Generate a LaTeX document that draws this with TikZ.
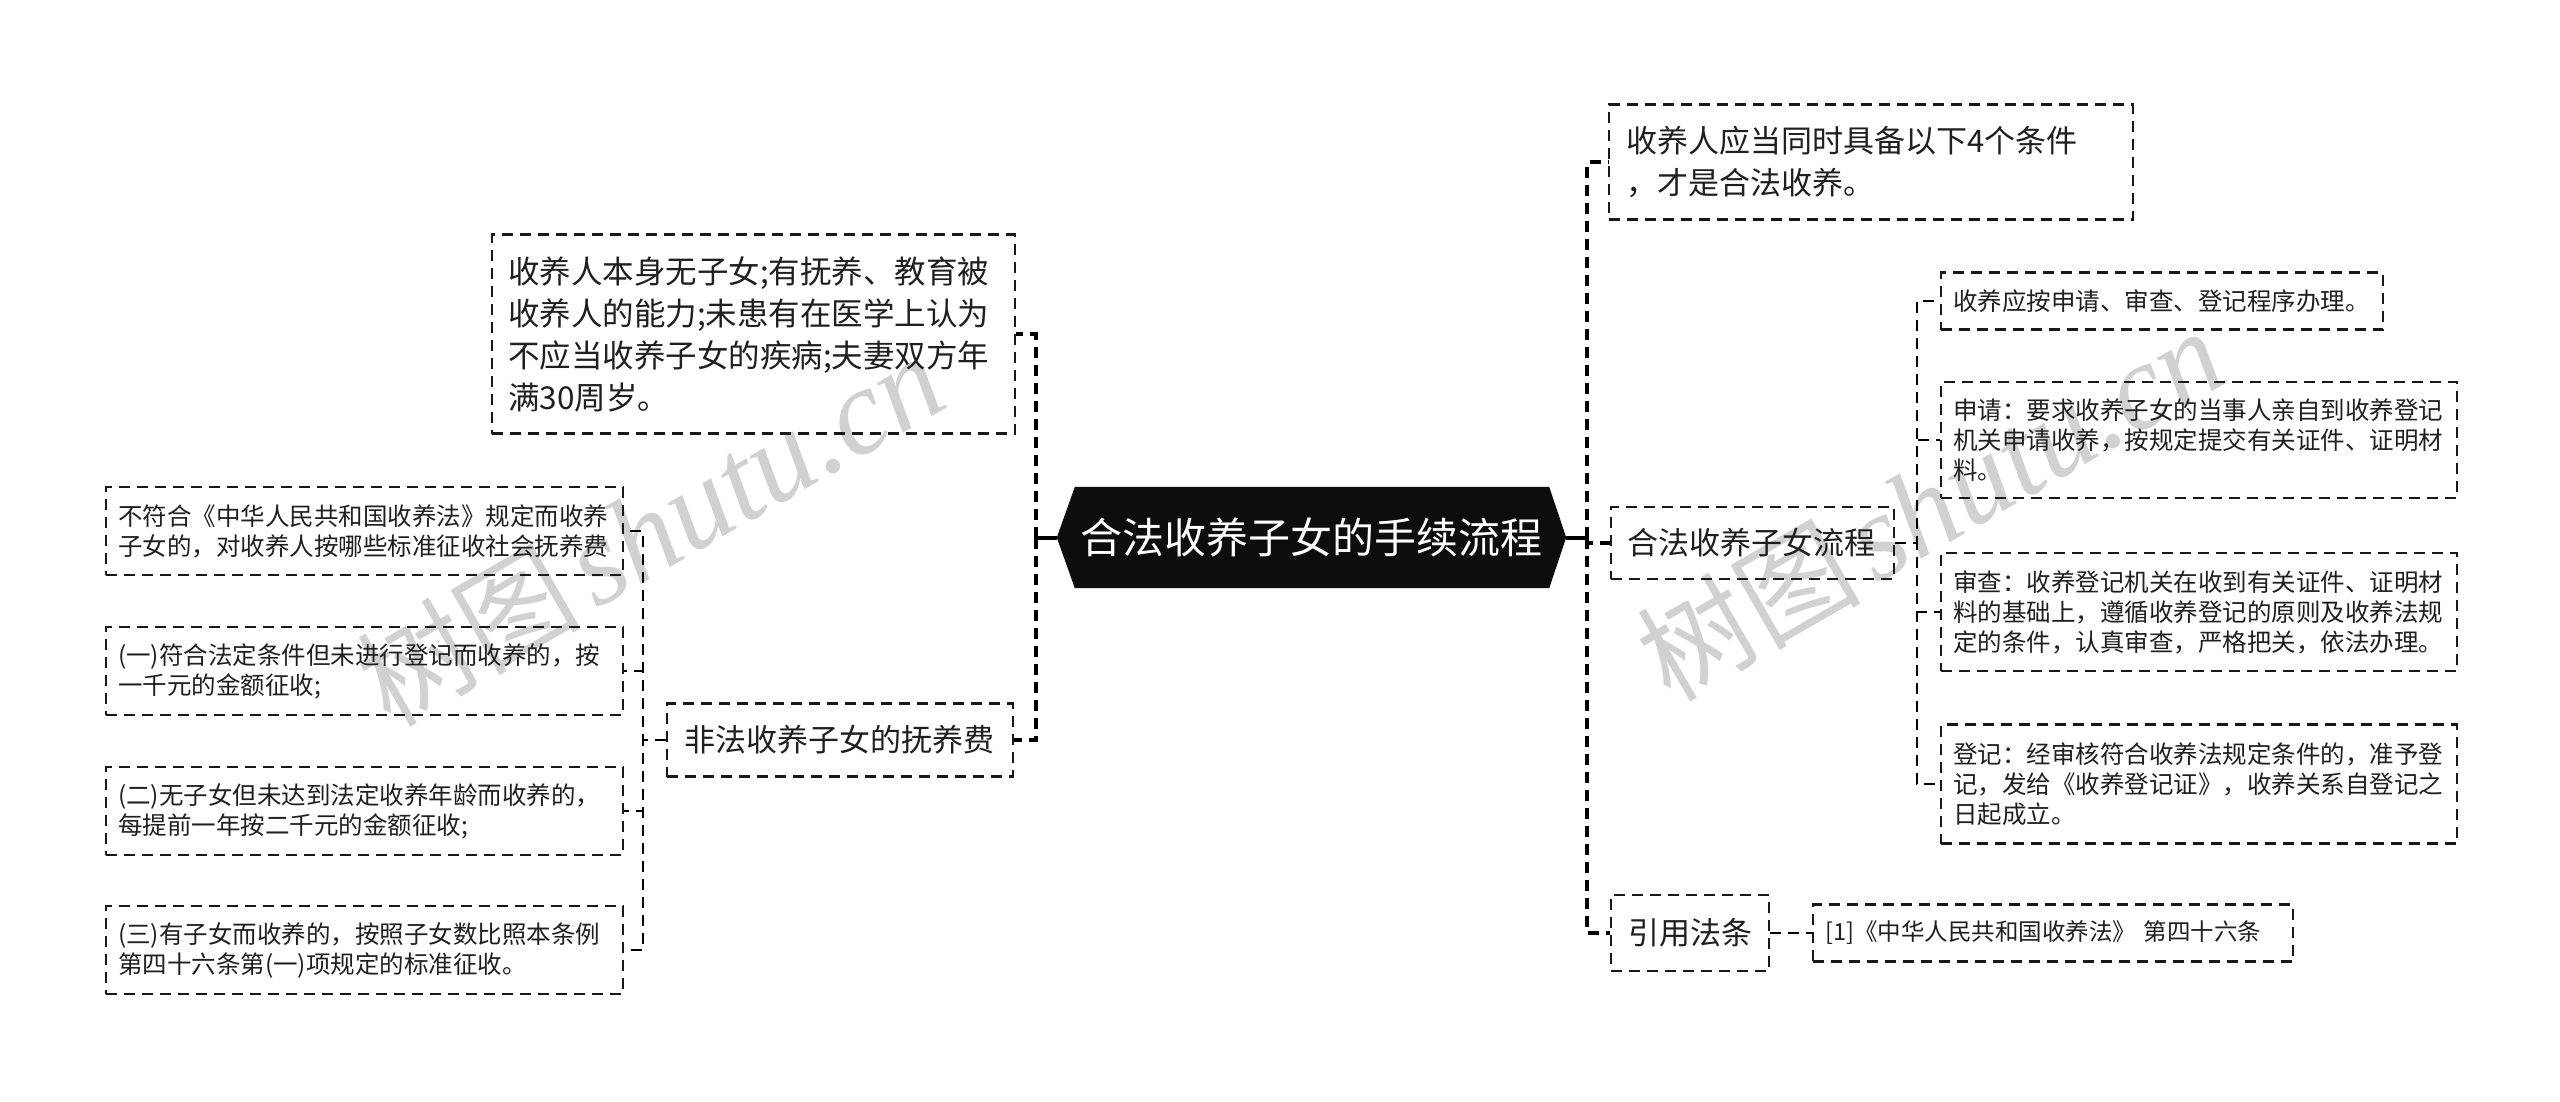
\documentclass[tikz,border=0pt]{standalone}
\usepackage{fontspec}
\setmainfont{Noto Sans CJK SC}
\newfontfamily\wmlatin{Liberation Serif}
\usetikzlibrary{backgrounds}
\begin{document}
\begin{tikzpicture}[x=1pt,y=-1pt]
\tikzset{
 bx/.style={draw=black!90, line width=2.2pt, dash pattern=on 11pt off 7pt, align=left, inner ysep=0pt, anchor=west, text=black!88},
 leaf/.style={bx, inner xsep=12pt, font=\fontsize{24.5}{30}\selectfont},
 lvl/.style={bx, inner xsep=17pt, font=\fontsize{31}{42}\selectfont},
 trunk/.style={draw=black, line width=3.6pt, dash pattern=on 11pt off 7pt},
 twig/.style={draw=black, line width=2.2pt, dash pattern=on 11pt off 7pt},
 stem/.style={draw=black, line width=4pt},
 wm/.style={text=black!18, rotate=30, inner sep=0pt},
}
\useasboundingbox (0,0) rectangle (2560,1101);

% central topic
\node[text=white, font=\fontsize{42}{50}\selectfont, minimum width=509pt, minimum height=101pt, inner sep=0pt] (root) at (1311.5,537.5) {合法收养子女的手续流程};

\begin{scope}[on background layer]
\fill[white] (0,0) rectangle (2560,1101);
\node[wm] (wm1) at (650,530) {\fontsize{112}{112}\selectfont 树图\hspace{14pt}{\wmlatin\itshape\fontsize{122}{122}\selectfont shutu.cn}};
\node[wm] (wm2) at (1930,505) {\fontsize{112}{112}\selectfont 树图\hspace{14pt}{\wmlatin\itshape\fontsize{122}{122}\selectfont shutu.cn}};
\fill[black!95] (root.west) -- ([xshift=18pt]root.north west) -- ([xshift=-17pt]root.north east) -- (root.east) -- ([xshift=-17pt]root.south east) -- ([xshift=18pt]root.south west) -- cycle;
\end{scope}

% left branch
\node[lvl, inner xsep=16pt, text width=491pt, minimum height=199pt, font=\fontsize{31.5}{42}\selectfont] (cond) at (491,334) {收养人本身无子女;有抚养、教育被\\收养人的能力;未患有在医学上认为\\不应当收养子女的疾病;夫妻双方年\\满30周岁。};
\node[lvl, text width=312pt, minimum height=73pt] (fee) at (666,740) {非法收养子女的抚养费};

\node[leaf, text width=493pt, minimum height=88pt] (f0) at (105,531) {不符合《中华人民共和国收养法》规定而收养\\子女的，对收养人按哪些标准征收社会抚养费};
\node[leaf, text width=493pt, minimum height=88pt] (f1) at (105,671) {(一)符合法定条件但未进行登记而收养的，按\\一千元的金额征收;};
\node[leaf, text width=493pt, minimum height=88pt] (f2) at (105,811) {(二)无子女但未达到法定收养年龄而收养的，\\每提前一年按二千元的金额征收;};
\node[leaf, text width=493pt, minimum height=88pt] (f3) at (105,950) {(三)有子女而收养的，按照子女数比照本条例\\第四十六条第(一)项规定的标准征收。};

% right branch
\node[lvl, text width=490pt, minimum height=115pt] (req) at (1608,162) {收养人应当同时具备以下4个条件\\，才是合法收养。};
\node[lvl, inner xsep=16.5pt, text width=250pt, minimum height=72pt] (proc) at (1610,543) {合法收养子女流程};
\node[lvl, text width=124pt, minimum height=76pt] (law) at (1610,933) {引用法条};
\node[leaf, font=\fontsize{23.5}{30}\selectfont, text width=456pt, minimum height=57pt] (ref) at (1812,933) {[1]《中华人民共和国收养法》 第四十六条};

\node[leaf, text width=418pt, minimum height=57pt] (s0) at (1940,301) {收养应按申请、审查、登记程序办理。};
\node[leaf, text width=492pt, minimum height=116pt] (s1) at (1940,440) {申请：要求收养子女的当事人亲自到收养登记\\机关申请收养，按规定提交有关证件、证明材\\料。};
\node[leaf, text width=492pt, minimum height=118pt] (s2) at (1940,612) {审查：收养登记机关在收到有关证件、证明材\\料的基础上，遵循收养登记的原则及收养法规\\定的条件，认真审查，严格把关，依法办理。};
\node[leaf, text width=492pt, minimum height=119pt] (s3) at (1940,784) {登记：经审核符合收养法规定条件的，准予登\\记，发给《收养登记证》，收养关系自登记之\\日起成立。};

% connectors
\coordinate (lj) at ([xshift=-21pt]root.west);
\coordinate (rj) at ([xshift=21pt]root.east);
\draw[stem] (root.west) -- (lj);
\draw[stem] (root.east) -- (rj);
\draw[trunk] (lj) |- (cond.east);
\draw[trunk] (lj) |- (fee.east);
\draw[trunk] (rj) |- (req.west);
\draw[trunk] (rj) |- (proc.west);
\draw[trunk] (rj) |- (law.west);

\coordinate (fj) at ([xshift=-23pt]fee.west);
\foreach \n in {f0,f1,f2,f3}{\draw[twig] (fee.west) -- (fj) |- (\n.east);}
\coordinate (pj) at ([xshift=22pt]proc.east);
\foreach \n in {s0,s1,s2,s3}{\draw[twig] (proc.east) -- (pj) |- (\n.west);}
\draw[twig] (law.east) -- (ref.west);
\end{tikzpicture}
\end{document}
